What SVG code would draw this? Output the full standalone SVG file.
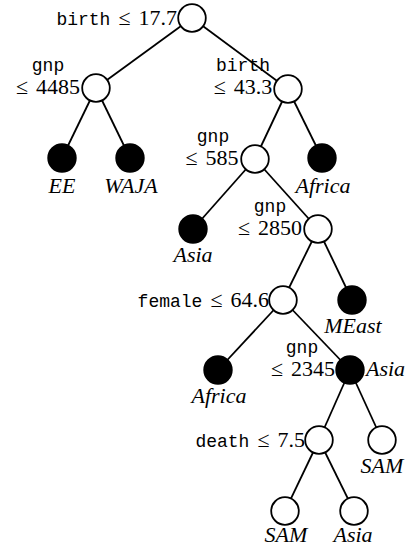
<svg xmlns="http://www.w3.org/2000/svg" width="408" height="548" viewBox="0 0 408 548">
<style>
.e{stroke:#000;stroke-width:1.8;fill:none}
.o{fill:#fff;stroke:#000;stroke-width:1.8}
.f{fill:#000;stroke:#000;stroke-width:1.8}
text{fill:#000}
.tt{font-family:"Liberation Mono","DejaVu Sans Mono",monospace;font-size:18px}
.rm{font-family:"Liberation Serif","DejaVu Serif",serif;font-size:22px}
.it{font-family:"Liberation Serif","DejaVu Serif",serif;font-size:22px;font-style:italic}
.m{text-anchor:middle}
.r{text-anchor:end}
</style>
<rect width="408" height="548" fill="#fff"/>
<g id="connectors">
<line class="e" x1="192" y1="18" x2="96" y2="88"/>
<line class="e" x1="192" y1="18" x2="288" y2="89"/>
<line class="e" x1="96" y1="88" x2="62" y2="158"/>
<line class="e" x1="96" y1="88" x2="130" y2="158"/>
<line class="e" x1="288" y1="89" x2="255" y2="159"/>
<line class="e" x1="288" y1="89" x2="322" y2="158"/>
<line class="e" x1="255" y1="159" x2="193" y2="229"/>
<line class="e" x1="255" y1="159" x2="318" y2="229"/>
<line class="e" x1="318" y1="229" x2="283" y2="300"/>
<line class="e" x1="318" y1="229" x2="352" y2="300"/>
<line class="e" x1="283" y1="300" x2="218" y2="370"/>
<line class="e" x1="283" y1="300" x2="350" y2="370"/>
<line class="e" x1="350" y1="370" x2="319" y2="440"/>
<line class="e" x1="350" y1="370" x2="382" y2="440"/>
<line class="e" x1="319" y1="440" x2="285" y2="511"/>
<line class="e" x1="319" y1="440" x2="354" y2="511"/>
</g>
<g id="n1"><circle class="o" cx="192" cy="18" r="13.8"/><text class="r" x="177" y="25"><tspan class="tt">birth</tspan><tspan class="rm" dx="8">≤</tspan><tspan class="rm" dx="8">17.7</tspan></text></g>
<g id="n2"><circle class="o" cx="96" cy="88" r="13.8"/><text class="tt m" x="48" y="71">gnp</text><text class="rm m" x="48" y="94">≤<tspan dx="8">4485</tspan></text></g>
<g id="n3"><circle class="o" cx="288" cy="89" r="13.8"/><text class="tt m" x="243" y="71">birth</text><text class="rm m" x="243" y="94">≤<tspan dx="8">43.3</tspan></text></g>
<g id="n4"><circle class="f" cx="62" cy="158" r="13.8"/><text class="it m" x="62" y="193">EE</text></g>
<g id="n5"><circle class="f" cx="130" cy="158" r="13.8"/><text class="it m" x="131" y="193">WAJA</text></g>
<g id="n6"><circle class="o" cx="255" cy="159" r="13.8"/><text class="tt m" x="213" y="142">gnp</text><text class="rm m" x="212" y="165">≤<tspan dx="8">585</tspan></text></g>
<g id="n7"><circle class="f" cx="322" cy="158" r="13.8"/><text class="it m" x="323" y="193">Africa</text></g>
<g id="n8"><circle class="f" cx="193" cy="229" r="13.8"/><text class="it m" x="193" y="262">Asia</text></g>
<g id="n9"><circle class="o" cx="318" cy="229" r="13.8"/><text class="tt m" x="270" y="212">gnp</text><text class="rm m" x="270" y="235">≤<tspan dx="8">2850</tspan></text></g>
<g id="n10"><circle class="o" cx="283" cy="300" r="13.8"/><text class="r" x="269" y="307"><tspan class="tt">female</tspan><tspan class="rm" dx="8">≤</tspan><tspan class="rm" dx="8">64.6</tspan></text></g>
<g id="n11"><circle class="f" cx="352" cy="300" r="13.8"/><text class="it m" x="353" y="333">MEast</text></g>
<g id="n12"><circle class="f" cx="218" cy="370" r="13.8"/><text class="it m" x="219" y="403">Africa</text></g>
<g id="n13"><circle class="f" cx="350" cy="370" r="13.8"/><text class="tt m" x="302" y="353">gnp</text><text class="rm m" x="303" y="376">≤<tspan dx="8">2345</tspan></text><text class="it" x="366" y="376">Asia</text></g>
<g id="n14"><circle class="o" cx="319" cy="440" r="13.8"/><text class="r" x="305" y="447"><tspan class="tt">death</tspan><tspan class="rm" dx="8">≤</tspan><tspan class="rm" dx="8">7.5</tspan></text></g>
<g id="n15"><circle class="o" cx="382" cy="440" r="13.8"/><text class="it m" x="382" y="473">SAM</text></g>
<g id="n16"><circle class="o" cx="285" cy="511" r="13.8"/><text class="it m" x="286" y="542">SAM</text></g>
<g id="n17"><circle class="o" cx="354" cy="511" r="13.8"/><text class="it m" x="353" y="542">Asia</text></g>
</svg>
